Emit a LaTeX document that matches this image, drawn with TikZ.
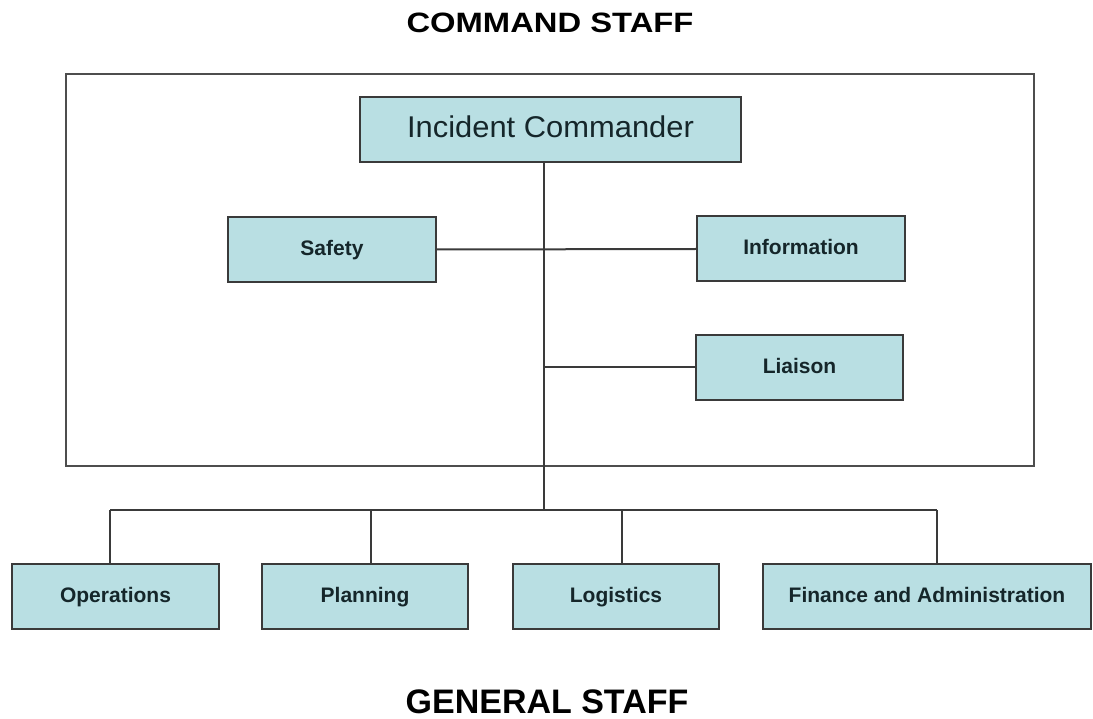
\documentclass[tikz,border=0pt]{standalone}
\usepackage{fontspec}
\setmainfont{Liberation Sans}
\definecolor{boxfill}{HTML}{B9DFE3}
\definecolor{boxline}{HTML}{3A3A3A}
\definecolor{txt}{HTML}{15262A}
\begin{document}
\begin{tikzpicture}[x=1pt,y=-1pt,
  orgbox/.style={draw=boxline,fill=boxfill,line width=2pt,minimum height=65pt,inner sep=0pt,text=txt,text height=15pt,text depth=3pt,font=\fontsize{21}{25}\selectfont\bfseries},
  conn/.style={draw=boxline,line width=2pt},
  frame/.style={draw=boxline!90,line width=2.2pt}]
\useasboundingbox (0,0) rectangle (1093,719);
% titles
\node[inner sep=0pt] (cmdtitle) at (550,23) {\scalebox{1.17}[1]{\fontsize{28}{30}\selectfont\bfseries COMMAND STAFF}};
\node[inner sep=0pt] (gentitle) at (547,701.5) {\fontsize{34}{40}\selectfont\bfseries GENERAL STAFF};
% frame
\draw[frame] (66,74) rectangle (1034,466);
% command staff
\node[orgbox,minimum width=381pt,font=\fontsize{30}{34}\selectfont,text height=21pt,text depth=4pt] (ic) at (550.5,129.5) {\scalebox{1.03}[1]{Incident Commander}};
\node[orgbox,minimum width=208pt] (safety) at (332,249.5) {Safety};
\node[orgbox,minimum width=208pt] (info) at (801,249) {Information};
\node[orgbox,minimum width=207pt] (liaison) at (799.5,367.5) {Liaison};
% general staff
\node[orgbox,minimum width=207pt] (ops) at (115.5,596.5) {Operations};
\node[orgbox,minimum width=206pt] (plan) at (365,596.5) {Planning};
\node[orgbox,minimum width=206pt] (logi) at (616,596) {Logistics};
\node[orgbox,minimum width=328pt] (fin) at (927,596.5) {Finance and Administration};
% connectors
\coordinate (top) at (544,162);
\coordinate (bus) at (544,510);
\coordinate (bops) at (110,510);
\coordinate (bplan) at (371,510);
\coordinate (blogi) at (622,510);
\coordinate (bfin) at (937,510);
\draw[conn] (top) -- (bus);
\draw[conn] (safety.east) -- (info.west);
\draw[conn] (top |- liaison.west) -- (liaison.west);
\draw[conn] (bops) -- (bfin);
\draw[conn] (bops) -- (bops |- ops.north);
\draw[conn] (bplan) -- (bplan |- plan.north);
\draw[conn] (blogi) -- (blogi |- logi.north);
\draw[conn] (bfin) -- (bfin |- fin.north);
\end{tikzpicture}
\end{document}
